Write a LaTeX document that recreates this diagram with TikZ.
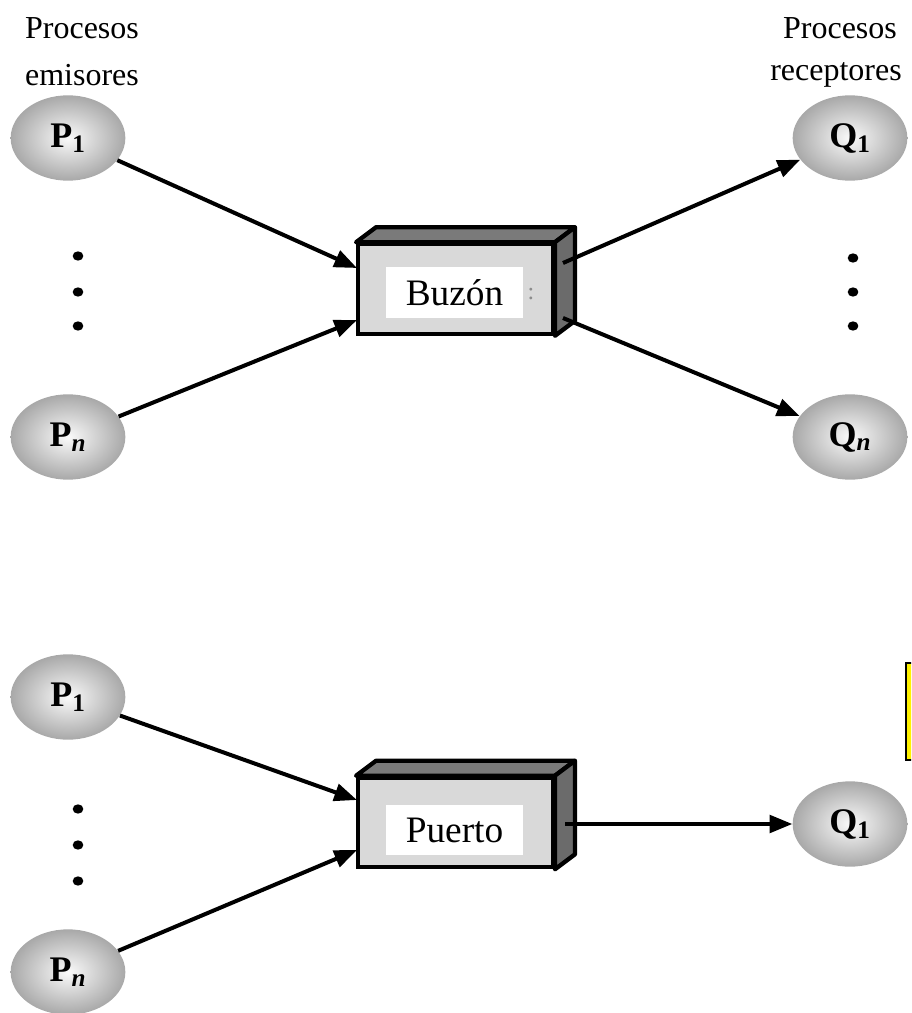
\documentclass[tikz,border=0pt]{standalone}
\usepackage{fontspec}
\setmainfont{Liberation Serif}
\usetikzlibrary{shapes.geometric,arrows.meta}
\begin{document}
\begin{tikzpicture}[x=0.75pt,y=-0.75pt,
  proc/.style={ellipse, minimum width=86pt, minimum height=64pt, inner sep=0pt,
    inner color=black!2, outer color=black!34, draw=none,
    font=\fontsize{27}{30}\selectfont\bfseries},
  head/.style={inner sep=0pt, font=\fontsize{24}{28}\selectfont},
  arr/.style={line width=3pt, -{Triangle[length=17pt,width=13pt]}},
  front/.style={draw, line width=3.2pt, fill=black!15, minimum width=146pt, minimum height=67pt, inner sep=0pt},
  topface/.style={draw, line width=3.2pt, fill=black!52, line join=round},
  sideface/.style={draw, line width=3.2pt, fill=black!58, line join=round},
  lbl/.style={fill=white, minimum width=103pt, minimum height=38pt, inner sep=0pt, font=\fontsize{28}{32}\selectfont},
  dot/.style={ellipse, fill=black, inner sep=0pt, minimum width=8pt, minimum height=7pt}
]
\useasboundingbox (0,0) rectangle (911,1013);
\clip (0,0) rectangle (911,1013);

% headings
\node[head] (h1) at (82,28) {Procesos};
\node[head] (h2) at (82,75) {emisores};
\node[head] (h3) at (840,28) {Procesos};
\node[head] (h4) at (836,75) {receptores};

% ---------- top part ----------
\node[proc] (p1) at (68,138) {P\textsubscript{1}};
\node[proc] (pn) at (68,437) {P\textsubscript{\textit{n}}};
\node[proc] (q1) at (850,138) {Q\textsubscript{1}};
\node[proc] (qn) at (850,437) {Q\textsubscript{\textit{n}}};

\node[dot] (d1) at (78,256) {};
\node[dot] (d2) at (78,292) {};
\node[dot] (d3) at (78,326) {};
\node[dot] (d4) at (853,258) {};
\node[dot] (d5) at (853,292) {};
\node[dot] (d6) at (853,326) {};

\node[front] (buzon) at (455.5,289) {};
\filldraw[topface] (buzon.north west) -- ++(20,-15) -- ([shift={(20,-15)}]buzon.north east) -- (buzon.north east) -- cycle;
\filldraw[sideface] (buzon.north east) -- ++(20,-15) -- ([shift={(20,-15)}]buzon.south east) -- (buzon.south east) -- cycle;
\node[lbl] (buzonlbl) at (454.5,292.5) {Buzón};
\node[text=black!45, inner sep=0pt, font=\fontsize{18}{20}\selectfont] (colon) at (531,294) {:};

\coordinate (bin1) at (357,268);
\coordinate (bin2) at (357,320);
\coordinate (bout1) at (563,263);
\coordinate (bout2) at (563,318);

\draw[arr] (p1) -- (bin1);
\draw[arr] (pn) -- (bin2);
\draw[arr] (bout1) -- (q1);
\draw[arr] (bout2) -- (qn);

% ---------- bottom part ----------
\node[proc] (p1b) at (68,697) {P\textsubscript{1}};
\node[proc] (pnb) at (68,972) {P\textsubscript{\textit{n}}};
\node[proc] (q1b) at (850,824) {Q\textsubscript{1}};

\node[dot] (d7) at (78,809) {};
\node[dot] (d8) at (78,845) {};
\node[dot] (d9) at (78,881) {};

\node[front] (puerto) at (455.5,822.5) {};
\filldraw[topface] (puerto.north west) -- ++(20,-15) -- ([shift={(20,-15)}]puerto.north east) -- (puerto.north east) -- cycle;
\filldraw[sideface] (puerto.north east) -- ++(20,-15) -- ([shift={(20,-15)}]puerto.south east) -- (puerto.south east) -- cycle;
\node[lbl] (puertolbl) at (454.5,830) {Puerto};

\coordinate (pin1) at (357,800);
\coordinate (pin2) at (357,850);
\coordinate (pout) at (565,824);

\draw[arr] (p1b) -- (pin1);
\draw[arr] (pnb) -- (pin2);
\draw[arr] (pout) -- (q1b.west);

% yellow note cut at the edge
\draw[fill=yellow, line width=2pt] (906,663) rectangle (940,760);
\end{tikzpicture}
\end{document}
